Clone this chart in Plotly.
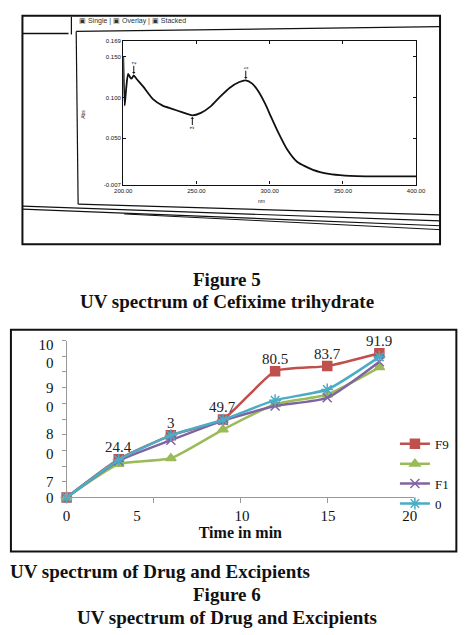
import plotly.graph_objects as go

W, H = 475, 635

# ---------------- data: UV spectrum (Figure 5) ----------------
wavelength_nm = [200, 201, 202, 203.3, 204.6, 205.7, 207.2, 209, 213.8, 220.3, 226.9,
                 233.4, 240, 247.2, 253.1, 259.7, 266.2, 272.8, 279.3, 283.7, 288.1,
                 292.5, 297, 301, 305.6, 312, 318.7, 329.6, 340.5, 351.5, 373, 400]
absorbance = [0.150, 0.090, 0.111, 0.129, 0.125, 0.123, 0.127, 0.123, 0.113, 0.098, 0.090,
              0.086, 0.082, 0.078, 0.081, 0.089, 0.101, 0.112, 0.119, 0.121, 0.117,
              0.107, 0.092, 0.076, 0.058, 0.036, 0.021, 0.011, 0.006, 0.004, 0.003, 0.003]
spec_xticks = [200, 250, 300, 350, 400]
spec_yticks = [-0.007, 0.050, 0.100, 0.150, 0.169]
spec_yticktext = ["-0.007", "0.050", "0.100", "0.150", "0.169"]
peak_wl = [207.2, 283.7]
peak_abs = [0.127, 0.121]
peak_lbl = ["2", "1"]
valley_wl = [247.2]
valley_abs = [0.078]
valley_lbl = ["3"]

# ---------------- data: release chart (Figure 6) ----------------
time_min = [0, 3, 6, 9, 12, 15, 18]
series_names = ["F9", " ", "F1", "0"]
f9 = [0, 24.4, 39.6, 49.7, 80.5, 83.7, 91.9]
s2 = [0, 21.3, 25.0, 43.3, 59.4, 65.6, 82.9]
s3 = [0, 23.3, 36.5, 49.0, 58.3, 63.5, 86.5]
s4 = [0, 24.0, 39.6, 49.5, 62.0, 68.8, 89.6]
f9_labels = ["", "24.4", "3", "49.7", "80.5", "83.7", "91.9"]
y_label_vals = [0, 10, 28, 40.6, 57.5, 70, 86, 97.5]
y_label_text = ["0", "7", "0", "8", "0", "9", "0", "10"]
x_tick_marks = [5, 10, 15, 20]
x_label_vals = [0, 4.05, 10.1, 15.05, 19.75]
x_label_text = ["0", "5", "10", "15", "20"]
colors = ["#C0504D", "#9BBB59", "#8064A2", "#4BACC6"]
symbols = ["square", "triangle-up", "x-thin-open", "asterisk-open"]

SERIF = "Liberation Serif, Times New Roman, serif"
SANS = "Liberation Sans, Arial, sans-serif"


def px(x):
    return x / W


def py(y):
    return 1 - y / H


fig = go.Figure()

# spectrum
fig.add_trace(go.Scatter(x=wavelength_nm, y=absorbance, mode="lines",
                         line=dict(color="#111", width=1.8, shape="spline", smoothing=0.6),
                         xaxis="x", yaxis="y", showlegend=False, hoverinfo="skip"))

# release profiles (F9 on the base axis, the rest on the overlaying label axis)
for i, (name, vals, c, s) in enumerate(zip(series_names, [f9, s2, s3, s4], colors, symbols)):
    fig.add_trace(go.Scatter(
        x=time_min, y=vals, name=name, mode="lines+markers",
        line=dict(color=c, width=2.5, shape="spline", smoothing=0.5),
        marker=dict(symbol=s, size=9 if s != "asterisk-open" else 10, color=c,
                    line=dict(color=c, width=1.5)),
        xaxis="x2", yaxis="y2" if i == 0 else "y3", cliponaxis=False))

TXT = dict(family=SERIF, size=19, color="#111")
annotations = [
    dict(text="<b>Figure 5</b>", x=0.478, y=py(281), font=TXT),
    dict(text="<b>UV spectrum of Cefixime trihydrate</b>", x=0.478, y=py(303), font=TXT),
    dict(text="<b>UV spectrum of Drug and Excipients</b>", x=px(0), y=py(578),
         xanchor="left", font=TXT),
    dict(text="<b>Figure 6</b>", x=0.478, y=py(602), font=TXT),
    dict(text="<b>UV spectrum of Drug and Excipients</b>", x=0.478, y=py(625), font=TXT),
    dict(text="▣ Single | ▣ Overlay | ▣ Stacked", x=px(72), y=py(17), xanchor="left",
         font=dict(family=SANS, size=7, color="#333")),
    dict(text="Abs", x=px(77), y=py(112), textangle=-90,
         font=dict(family=SANS, size=5, color="#222")),
    dict(text="nm", x=px(263), y=py(201),
         font=dict(family=SANS, size=5, color="#222")),
]
for a in annotations:
    a.update(xref="paper", yref="paper", showarrow=False, xanchor=a.get("xanchor", "center"),
             yanchor="middle", borderpad=0)

# data labels of F9
for t, v, lb in zip(time_min, f9, f9_labels):
    if lb:
        annotations.append(dict(x=t, y=v, xref="x2", yref="y2", text=lb, showarrow=False,
                                yshift=12, xanchor="center", yanchor="middle",
                                font=dict(family=SERIF, size=15, color="#222")))

for wl, ab, lb in zip(peak_wl, peak_abs, peak_lbl):
    annotations.append(dict(x=wl, y=ab + 0.002, xref="x", yref="y", text=lb, textangle=-90,
                            showarrow=True, ax=0, ay=-11, arrowhead=1, arrowsize=0.6,
                            arrowwidth=1, arrowcolor="#111",
                            font=dict(family=SANS, size=5, color="#111")))
for wl, ab, lb in zip(valley_wl, valley_abs, valley_lbl):
    annotations.append(dict(x=wl, y=ab - 0.002, xref="x", yref="y", text=lb, textangle=-90,
                            showarrow=True, ax=0, ay=11, arrowhead=1, arrowsize=0.6,
                            arrowwidth=1, arrowcolor="#111",
                            font=dict(family=SANS, size=5, color="#111")))


def seg(x0, y0, x1, y1, w=1.2, kind="line"):
    return dict(type=kind, xref="paper", yref="paper", x0=px(x0), y0=py(y0), x1=px(x1),
                y1=py(y1), line=dict(color="#111", width=w), layer="above")


shapes = [
    seg(14, 12, 449, 245, 2, "rect"),
    seg(14, 30, 62, 30, 1.5),
    seg(65, 13, 65, 31, 1.2),
    seg(70, 28, 449, 23, 1.2),
    seg(70, 28, 72, 204, 1.2),
    seg(72, 204, 449, 215, 1.2),
    seg(14, 206, 449, 221, 1.2),
    seg(14, 209, 449, 226, 1.2),
    seg(120, 214, 449, 230, 1.0),
    seg(2, 332, 466, 558, 2, "rect"),
]

fig.update_layout(
    width=W, height=H, margin=dict(l=0, r=0, t=0, b=0),
    paper_bgcolor="white", plot_bgcolor="rgba(0,0,0,0)",
    showlegend=True,
    legend=dict(x=px(402), y=py(433), xanchor="left", yanchor="top",
                bgcolor="rgba(0,0,0,0)", font=dict(family=SERIF, size=13, color="#111"),
                itemwidth=30, tracegroupgap=0),
    xaxis=dict(domain=[px(119), px(424)], range=[200, 400], anchor="y",
               tickvals=spec_xticks, tickformat=".2f", ticks="inside", ticklen=3,
               tickcolor="#111", showline=True, linecolor="#111", linewidth=1.3,
               mirror="ticks", showgrid=False, zeroline=False,
               tickfont=dict(family=SANS, size=6, color="#111")),
    yaxis=dict(domain=[py(184), py(38)], range=[-0.007, 0.169], anchor="x",
               tickvals=spec_yticks, ticktext=spec_yticktext, ticks="inside", ticklen=3,
               tickcolor="#111", showline=True, linecolor="#111", linewidth=1.3,
               mirror="ticks", showgrid=False, zeroline=False,
               tickfont=dict(family=SANS, size=6, color="#111")),
    xaxis2=dict(domain=[px(60), px(422)], range=[0, 20], anchor="y2",
                tickvals=x_label_vals, ticktext=x_label_text, ticks="",
                ticklabelstandoff=5,
                minor=dict(tickvals=x_tick_marks, ticks="outside", ticklen=5,
                           tickcolor="#999", showgrid=False),
                showline=True, linecolor="#999", linewidth=1, showgrid=False,
                zeroline=False, tickfont=dict(family=SERIF, size=15, color="#111"),
                title=dict(text="<b>Time in min</b>", standoff=2,
                           font=dict(family=SERIF, size=16, color="#111"))),
    yaxis2=dict(domain=[py(503), py(343)], range=[0, 100], anchor="x2", dtick=10,
                ticks="outside", ticklen=4, tickcolor="#999", showline=True,
                linecolor="#999", linewidth=1, showgrid=False, zeroline=False,
                showticklabels=False),
    yaxis3=dict(overlaying="y2", anchor="x2", range=[0, 100], tickvals=y_label_vals,
                ticktext=y_label_text, ticks="", ticklabelstandoff=12, showline=False,
                showgrid=False, zeroline=False,
                tickfont=dict(family=SERIF, size=15, color="#111")),
    annotations=annotations,
    shapes=shapes,
)

fig.write_html("out.html")
